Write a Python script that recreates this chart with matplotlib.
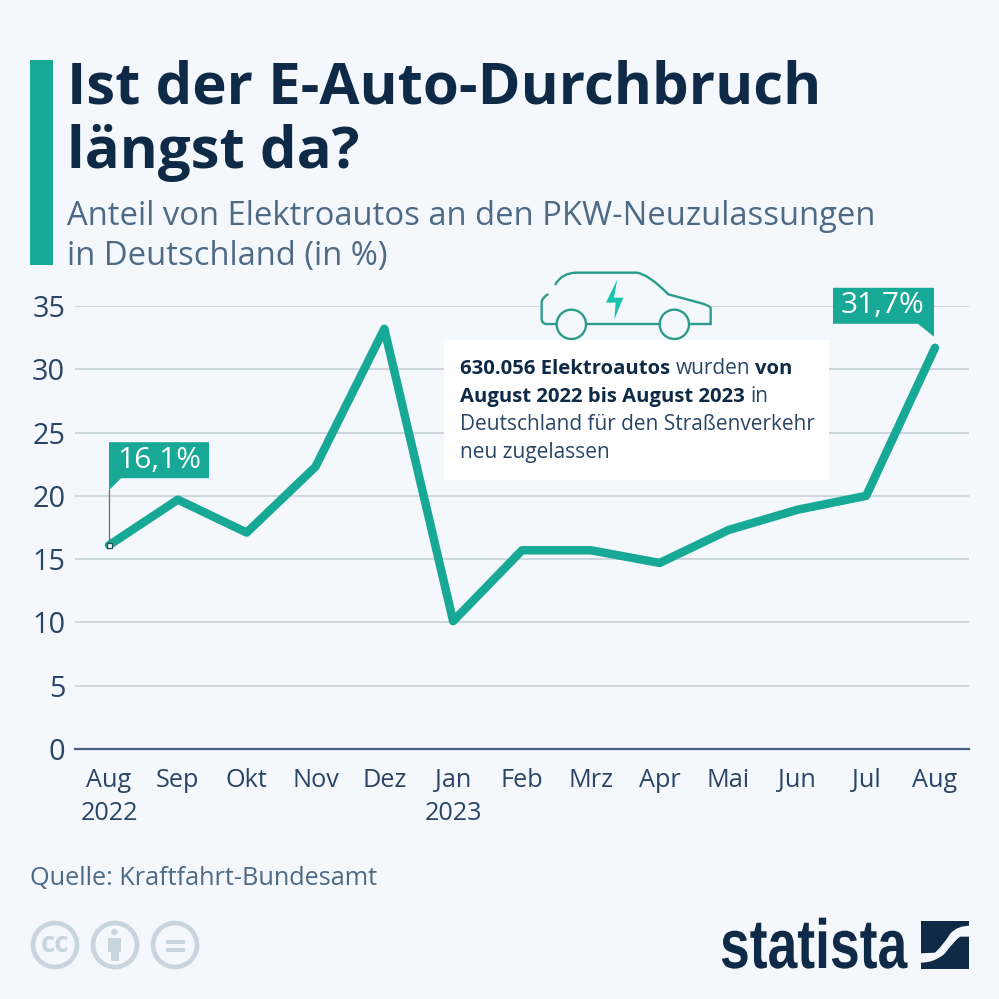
import matplotlib
matplotlib.use("Agg")
import matplotlib.pyplot as plt
from matplotlib.patches import Polygon, Rectangle, Circle, PathPatch
from matplotlib.path import Path
from matplotlib.patheffects import AbstractPathEffect
from matplotlib.transforms import Affine2D

months = ["Aug\n2022", "Sep", "Okt", "Nov", "Dez", "Jan\n2023", "Feb", "Mrz", "Apr", "Mai", "Jun", "Jul", "Aug"]
share = [16.1, 19.7, 17.1, 22.3, 33.2, 10.1, 15.7, 15.7, 14.7, 17.3, 18.9, 20.0, 31.7]
yticks = [0, 5, 10, 15, 20, 25, 30, 35]
first_label = "16,1%"
last_label = "31,7%"

BG = "#f4f8fc"; TEAL = "#17a896"; NAVY = "#0f2a47"; SLATE = "#4e6a85"; TICK = "#2a4565"
GRID = "#c5ced6"; ICON = "#c9d5de"
W = H = 999
plt.rcParams["font.family"] = ["Open Sans", "DejaVu Sans"]

fig = plt.figure(figsize=(W / 100, H / 100), dpi=100, facecolor=BG)

ax = fig.add_axes([75 / W, 1 - 749 / H, 894 / W, 443 / H], facecolor="none", zorder=1)
ax.set_xlim(-0.494, 12.494)
ax.set_ylim(0, 35)
ax.set_yticks(yticks)
ax.set_xticks(range(len(months)))
ax.set_xticklabels(months, fontsize=18.2, color=TICK, linespacing=1.38)
ax.tick_params(axis="x", length=0, pad=14)
ax.tick_params(axis="y", length=0, pad=7, labelsize=20.8, labelcolor=TICK)
for s in ["top", "right", "left"]:
    ax.spines[s].set_visible(False)
ax.spines["bottom"].set_color("#4a6080")
ax.spines["bottom"].set_linewidth(1.6)
ax.grid(axis="y", color=GRID, lw=1.1)
ax.set_axisbelow(True)
ax.plot(range(len(share)), share, color=TEAL, lw=6.1, solid_joinstyle="round",
        solid_capstyle="round", zorder=4)

ov = fig.add_axes([0, 0, 1, 1], facecolor="none", zorder=2)
ov.set_xlim(0, W); ov.set_ylim(H, 0); ov.axis("off")

def px(i, v):
    x, y = ax.transData.transform((i, v))
    return x, H - y

ov.add_patch(Rectangle((30, 60), 23, 205, color=TEAL, lw=0))
ov.text(67, 104, "Ist der E-Auto-Durchbruch", fontsize=41.9, fontweight="bold", color=NAVY, va="baseline")
ov.text(67, 168, "längst da?", fontsize=41.9, fontweight="bold", color=NAVY, va="baseline")
ov.text(67, 225, "Anteil von Elektroautos an den PKW-Neuzulassungen", fontsize=23.6, color=SLATE, va="baseline")
ov.text(67, 265, "in Deutschland (in %)", fontsize=23.6, color=SLATE, va="baseline")
ov.text(30, 885, "Quelle: Kraftfahrt-Bundesamt", fontsize=18.2, color=SLATE, va="baseline")

x0, y0 = px(0, share[0])
ov.plot([x0, x0], [y0, y0 - 55], color="#5d6f80", lw=0.9, zorder=3)
ov.add_patch(Rectangle((x0 - 2.5, y0 - 2.5), 5, 5, fc=BG, ec="#33475b", lw=0.9, zorder=6))
ov.add_patch(Polygon([(x0, y0 - 103), (x0 + 100, y0 - 103), (x0 + 100, y0 - 67),
                      (x0 + 12, y0 - 67), (x0, y0 - 55)], color=TEAL, lw=0, zorder=5))
ov.text(x0 + 50, y0 - 85, first_label, color="white", fontsize=21.5, fontweight="medium",
        ha="center", va="center", zorder=6)

x1, y1 = px(12, share[12])
ov.add_patch(Polygon([(x1 - 102, y1 - 60), (x1 - 1, y1 - 60), (x1 - 1, y1 - 11),
                      (x1 - 17, y1 - 24), (x1 - 102, y1 - 24)], color=TEAL, lw=0, zorder=5))
ov.text(x1 - 52, y1 - 42, last_label, color="white", fontsize=21.5, fontweight="medium",
        ha="center", va="center", zorder=6)

ov.add_patch(Rectangle((444, 340), 385, 140, color="white", lw=0, zorder=1))
fig.canvas.draw()
rend = fig.canvas.get_renderer()
def runs(x, y, parts):
    for txt, bold in parts:
        t = ov.text(x, y, txt, fontsize=14.6 if bold else 15.05, color=NAVY if bold else TICK,
                    va="baseline", zorder=6, fontweight="bold" if bold else "normal")
        x = t.get_window_extent(rend).x1 + 5.2
runs(460, 374, [("630.056 Elektroautos", True), ("wurden", False), ("von", True)])
runs(460, 402, [("August 2022 bis August 2023", True), ("in", False)])
runs(460, 430, [("Deutschland für den Straßenverkehr", False)])
runs(460, 458, [("neu zugelassen", False)])

car = "#2b9c8c"
def z(p):
    return (520 + p[0] / 3, 260 + p[1] / 3)
body = [Path.MOVETO, Path.CURVE3, Path.CURVE3, Path.LINETO, Path.CURVE3, Path.CURVE3, Path.LINETO, Path.LINETO,
        Path.CURVE3, Path.CURVE3, Path.LINETO, Path.LINETO]
pts = [(65, 120), (65, 40), (150, 38), (350, 38), (375, 38), (400, 65), (445, 103), (545, 130),
       (572, 140), (572, 150), (572, 192), (65, 192)]
ov.add_patch(PathPatch(Path([z(p) for p in pts] + [z((65, 120))],
             body + [Path.CLOSEPOLY]), fc=BG, ec="none", zorder=2))
def stroke(p, c):
    ov.add_patch(PathPatch(Path([z(q) for q in p], c), fc="none", ec=car, lw=1.7, zorder=3))
stroke([(105, 75), (125, 38), (170, 38), (350, 38), (385, 42), (445, 103), (545, 130), (572, 138), (572, 145), (572, 192), (80, 192), (65, 192), (65, 175), (65, 125), (68, 112), (85, 102)],
       [Path.MOVETO, Path.CURVE3, Path.CURVE3, Path.LINETO, Path.CURVE3, Path.CURVE3, Path.LINETO, Path.CURVE3, Path.CURVE3, Path.LINETO,
        Path.LINETO, Path.CURVE3, Path.CURVE3, Path.LINETO, Path.CURVE3, Path.CURVE3])
for cx in (154, 463):
    ov.add_patch(Circle(z((cx, 193)), 44 / 3, fc=BG, ec=car, lw=1.7, zorder=4))
ov.add_patch(Polygon([z(p) for p in [(292, 58), (258, 128), (287, 128), (283, 178), (310, 113), (282, 113)]],
                     color="#16c3ad", lw=0, zorder=4))

for cx in (55, 115, 175):
    ov.add_patch(Circle((cx, 945), 22, fc="none", ec=ICON, lw=3.4))
ov.text(55, 944, "cc", fontsize=20, fontweight="bold", color=ICON, ha="center", va="center")
ov.add_patch(Circle((114.5, 932), 3.2, color=ICON, lw=0))
ov.add_patch(Polygon([(108, 938), (121, 938), (121, 952), (118.5, 952), (118.5, 961), (111, 961), (111, 952), (108, 952)], color=ICON, lw=0))
ov.add_patch(Rectangle((166, 940), 18.5, 4.3, color=ICON, lw=0))
ov.add_patch(Rectangle((166, 947.7), 18.5, 4.3, color=ICON, lw=0))

class Squeeze(AbstractPathEffect):
    def __init__(self, sx, x_px):
        super().__init__()
        self.sx, self.x_px = sx, x_px
    def draw_path(self, renderer, gc, tpath, affine, rgbFace=None):
        a = affine + Affine2D().translate(-self.x_px, 0).scale(self.sx, 1).translate(self.x_px, 0)
        renderer.draw_path(gc, tpath, a, rgbFace)

word = ov.text(720, 968, "statista", fontsize=50, fontweight="bold", color=NAVY, va="baseline",
               family=["Liberation Sans", "DejaVu Sans"])
word.set_path_effects([Squeeze(0.77, 720)])

def logo(p):
    return (900 + p[0] / 3, 910 + p[1] / 3)
ov.add_patch(Rectangle((921, 921), 48, 48, color=NAVY, lw=0))
band = [(211, 47), (170, 47), (150, 72), (130, 105), (105, 128), (62, 130), (62, 158),
        (105, 158), (135, 130), (160, 95), (180, 80), (211, 80), (211, 47)]
codes = [Path.MOVETO, Path.CURVE3, Path.CURVE3, Path.CURVE3, Path.CURVE3, Path.LINETO, Path.LINETO,
         Path.CURVE3, Path.CURVE3, Path.CURVE3, Path.CURVE3, Path.LINETO, Path.CLOSEPOLY]
ov.add_patch(PathPatch(Path([logo(p) for p in band], codes), fc=BG, ec="none", zorder=3))

fig.savefig("out.png", dpi=100, facecolor=BG)
